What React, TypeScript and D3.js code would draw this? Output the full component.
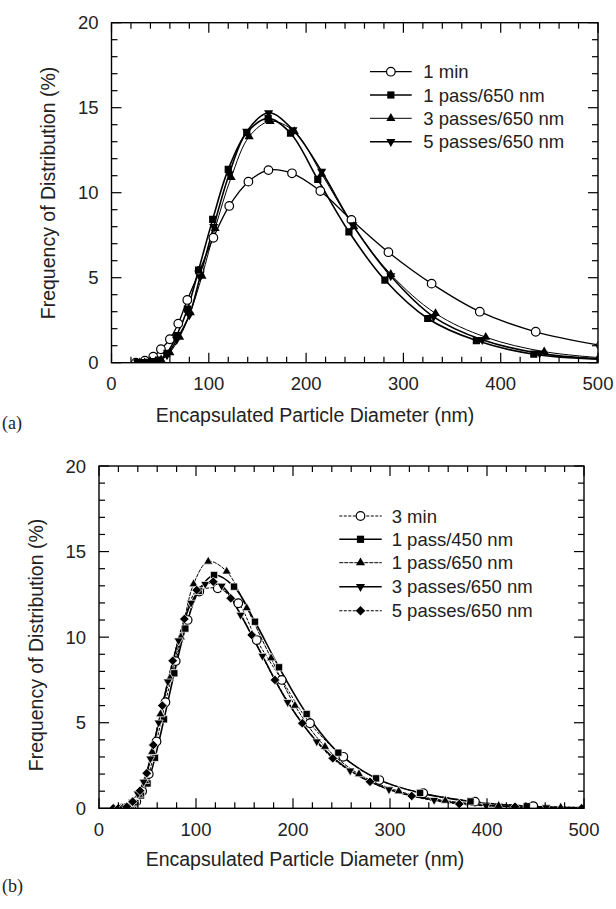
import React from 'react';
import * as d3 from 'd3';

// ---------- Panel (a) data ----------
const aXTicks = [0, 100, 200, 300, 400, 500];
const aYTicks = [0, 5, 10, 15, 20];
const a1minX = [25, 34.3, 42.9, 50.8, 60, 68.6, 77.9, 90.5, 104.7, 121, 140.7, 161.3, 185.5, 214.6, 246.6, 284.6, 329, 378.5, 436, 503];
const a1minY = [0, 0.12, 0.35, 0.79, 1.38, 2.3, 3.69, 5.4, 7.35, 9.22, 10.65, 11.33, 11.14, 10.1, 8.4, 6.5, 4.65, 3.0, 1.82, 1.02];
const a1passX = [27, 32, 37, 42.5, 48.5, 57, 67, 78, 89.5, 104, 120, 139, 161, 184, 212, 244, 281, 325, 375, 434, 502];
const a1passY = [0, 0, 0.02, 0.06, 0.15, 0.55, 1.6, 3.15, 5.45, 8.43, 11.37, 13.53, 14.37, 13.5, 10.78, 7.7, 4.86, 2.6, 1.3, 0.5, 0.2];
const a3passX = [29, 34, 39, 45, 51, 60, 70, 81, 93, 106.5, 123, 141.5, 163, 188, 216, 249, 287, 333, 384.6, 444.7, 512];
const a3passY = [0, 0, 0.02, 0.06, 0.18, 0.6, 1.5, 2.95, 5.1, 7.9, 10.9, 13.3, 14.2, 13.6, 11.1, 8.0, 5.2, 2.9, 1.5, 0.65, 0.25];
const a5passX = [27, 32, 37, 42.5, 48.5, 57, 67, 80, 91, 105, 121, 139, 161.5, 186.5, 216, 248, 287, 331, 381, 440, 510];
const a5passY = [0, 0, 0.01, 0.03, 0.1, 0.45, 1.35, 2.8, 5.05, 8.0, 11.1, 13.6, 14.7, 13.7, 11.25, 8.1, 5.1, 2.7, 1.35, 0.55, 0.2];
const aLabels = ['1 min', '1 pass/650 nm', '3 passes/650 nm', '5 passes/650 nm'];

// ---------- Panel (b) data ----------
const bXTicks = [0, 100, 200, 300, 400, 500];
const bYTicks = [0, 5, 10, 15, 20];
const b3minX = [25, 28.9, 33.3, 38.5, 44.5, 51.3, 59.3, 68.5, 79.1, 91.4, 103.4, 122.4, 143.6, 162.6, 188.4, 217.5, 251.9, 289, 334.3, 387.6, 447.7, 517];
const b3minY = [0, 0.03, 0.12, 0.4, 1.0, 2.0, 3.9, 6.2, 8.6, 11.0, 12.66, 12.85, 11.98, 9.83, 7.5, 4.97, 3.01, 1.65, 0.88, 0.39, 0.13, 0.04];
const b1p450X = [24.3, 28.1, 32.5, 37.5, 43.3, 50, 57.7, 67, 77.6, 89, 102.8, 118.6, 139.2, 160.8, 185.6, 214.1, 246.7, 285.6, 331, 383, 441, 508];
const b1p450Y = [0, 0.02, 0.1, 0.3, 0.75, 1.45, 2.95, 5.2, 7.89, 10.5, 12.7, 13.63, 12.95, 10.9, 8.24, 5.51, 3.25, 1.75, 0.9, 0.4, 0.12, 0.03];
const b1p650X = [22, 26.6, 30.8, 35.6, 41.1, 47.4, 54.8, 63.3, 73.1, 84.4, 97.5, 112.6, 131.6, 152.3, 177.4, 202, 233, 268, 309, 357, 412, 476];
const b1p650Y = [0, 0.02, 0.08, 0.3, 0.8, 1.6, 3.3, 5.5, 7.6, 10.0, 13.1, 14.42, 13.84, 11.7, 8.77, 6.0, 3.6, 2.0, 1.0, 0.45, 0.15, 0.05];
const b3passX = [18, 22, 26, 30, 34.5, 40, 46, 53, 61.5, 71, 82, 95, 109.5, 126.5, 146, 168.5, 194.5, 224.5, 259, 299, 345.5, 399, 461];
const b3passY = [0, 0, 0.04, 0.15, 0.37, 0.85, 1.55, 2.9, 5.0, 7.4, 9.8, 12.0, 13.1, 13.0, 11.3, 8.9, 6.2, 3.9, 2.2, 1.1, 0.48, 0.16, 0.05];
const b5passX = [14.7, 20, 24.5, 28.6, 34.7, 42.3, 49.2, 56, 65.3, 76, 88, 100.7, 117.8, 135.8, 157.4, 181.4, 209.6, 241, 279.4, 322.4, 371.4, 428.9, 497.6];
const b5passY = [0, 0, 0, 0.09, 0.39, 1.03, 2.05, 3.7, 6.0, 8.62, 11.06, 12.75, 13.24, 12.27, 10.13, 7.5, 4.97, 2.92, 1.55, 0.72, 0.25, 0.09, 0];
const bLabels = ['3 min', '1 pass/450 nm', '1 pass/650 nm', '3 passes/650 nm', '5 passes/650 nm'];

const xTitle = 'Encapsulated Particle Diameter (nm)';
const yTitle = 'Frequency of Distribution (%)';

const SANS = '"Liberation Sans", Arial, Helvetica, sans-serif';
const SERIF = '"Liberation Serif", "Times New Roman", serif';

type Shape = 'circle' | 'square' | 'up' | 'down' | 'diamond';
interface Series { xs: number[]; ys: number[]; shape: Shape; label: string; width: number; dash?: string; }

function Marker({ shape, x, y, halo }: { shape: Shape; x: number; y: number; halo?: boolean }) {
  const stroke = halo ? '#fff' : 'none';
  const sw = halo ? 0.7 : 0;
  if (shape === 'circle') {
    return <circle cx={x} cy={y} r={4.3} fill="#fff" stroke="#000" strokeWidth={1.2} />;
  }
  let type: d3.SymbolType = d3.symbolSquare;
  let size = 52;
  let rot = 0;
  if (shape === 'up') { type = d3.symbolTriangle; size = 36; }
  if (shape === 'down') { type = d3.symbolTriangle; size = 36; rot = 180; }
  if (shape === 'diamond') { type = d3.symbolSquare; size = 46; rot = 45; }
  const d = d3.symbol().type(type).size(size)() as string;
  return <path d={d} transform={`translate(${x},${y}) rotate(${rot})`} fill="#000" stroke={stroke} strokeWidth={sw} />;
}

interface PanelProps {
  id: string;
  left: number; right: number; top: number; bottom: number;
  xTicks: number[]; yTicks: number[];
  series: Series[];
  legend: { lineX0: number; lineX1: number; textX: number; rows: number[] };
  tickBase: number; titleBase: number; titleX: number; yTitleX: number; yTitleY: number;
  tag: string; tagX: number; tagBase: number;
  halo: boolean;
}

function Panel(p: PanelProps) {
  const x = d3.scaleLinear().domain([0, 500]).range([p.left, p.right]);
  const y = d3.scaleLinear().domain([0, 20]).range([p.bottom, p.top]);
  const line = d3.line<[number, number]>().x(d => x(d[0])).y(d => y(d[1])).curve(d3.curveCatmullRom.alpha(0.5));
  const minorX = d3.range(0, 501, 20);
  const minorY = d3.range(0, 21, 1);
  const majL = 10, minL = 6;
  return (
    <g>
      <defs>
        <clipPath id={`clip-${p.id}`}>
          <rect x={p.left} y={p.top} width={p.right - p.left} height={p.bottom - p.top} />
        </clipPath>
      </defs>
      <g clipPath={`url(#clip-${p.id})`}>
        {p.series.map((s, i) => (
          <path key={i} d={line(s.xs.map((v, k) => [v, s.ys[k]] as [number, number])) || ''} fill="none" stroke="#000"
            strokeWidth={s.width} strokeDasharray={s.dash} />
        ))}
        {p.series.map((s, i) => (
          <g key={'m' + i}>
            {s.xs.map((v, k) => <Marker key={k} shape={s.shape} x={x(v)} y={y(s.ys[k])} halo={p.halo} />)}
          </g>
        ))}
      </g>
      {/* ticks */}
      {minorX.map(v => {
        const L = aXTicks.includes(v) ? majL : minL;
        return (
          <g key={'tx' + v}>
            <line x1={x(v)} x2={x(v)} y1={p.bottom} y2={p.bottom - L} stroke="#000" strokeWidth={1.2} />
            <line x1={x(v)} x2={x(v)} y1={p.top} y2={p.top + L} stroke="#000" strokeWidth={1.2} />
          </g>
        );
      })}
      {minorY.map(v => {
        const L = v % 5 === 0 ? majL : minL;
        return (
          <g key={'ty' + v}>
            <line x1={p.left} x2={p.left + L} y1={y(v)} y2={y(v)} stroke="#000" strokeWidth={1.2} />
            <line x1={p.right} x2={p.right - L} y1={y(v)} y2={y(v)} stroke="#000" strokeWidth={1.2} />
          </g>
        );
      })}
      <rect x={p.left} y={p.top} width={p.right - p.left} height={p.bottom - p.top} fill="none" stroke="#000" strokeWidth={1.4} />
      {p.xTicks.map(v => (
        <text key={'xl' + v} x={x(v)} y={p.tickBase} textAnchor="middle" fontFamily={SANS} fontSize={18.5} fill="#222">{v}</text>
      ))}
      {p.yTicks.map(v => (
        <text key={'yl' + v} x={p.left - 13} y={y(v)} dy="0.36em" textAnchor="end" fontFamily={SANS} fontSize={18.5} fill="#222">{v}</text>
      ))}
      <text x={p.titleX} y={p.titleBase} textAnchor="middle" fontFamily={SANS} fontSize={19.5} fill="#222">{xTitle}</text>
      <text transform={`translate(${p.yTitleX},${p.yTitleY}) rotate(-90)`} textAnchor="middle" dy="0.36em" fontFamily={SANS} fontSize={19.5} fill="#222">{yTitle}</text>
      <text x={p.tagX} y={p.tagBase} fontFamily={SERIF} fontSize={18} fill="#222">{p.tag}</text>
      {/* legend */}
      {p.series.map((s, i) => {
        const ry = p.legend.rows[i];
        const mx = (p.legend.lineX0 + p.legend.lineX1) / 2;
        return (
          <g key={'lg' + i}>
            <line x1={p.legend.lineX0} x2={p.legend.lineX1} y1={ry} y2={ry} stroke="#000" strokeWidth={s.width} strokeDasharray={s.dash} />
            <Marker shape={s.shape} x={mx} y={ry} />
            <text x={p.legend.textX} y={ry} dy="0.36em" fontFamily={SANS} fontSize={18.5} fill="#222">{s.label}</text>
          </g>
        );
      })}
    </g>
  );
}

export default function App() {
  const aSeries: Series[] = [
    { xs: a1minX, ys: a1minY, shape: 'circle', label: aLabels[0], width: 1.3 },
    { xs: a1passX, ys: a1passY, shape: 'square', label: aLabels[1], width: 1.6 },
    { xs: a3passX, ys: a3passY, shape: 'up', label: aLabels[2], width: 1.0 },
    { xs: a5passX, ys: a5passY, shape: 'down', label: aLabels[3], width: 1.6 },
  ];
  const bSeries: Series[] = [
    { xs: b3minX, ys: b3minY, shape: 'circle', label: bLabels[0], width: 1.0, dash: '3,1.5' },
    { xs: b1p450X, ys: b1p450Y, shape: 'square', label: bLabels[1], width: 1.6 },
    { xs: b1p650X, ys: b1p650Y, shape: 'up', label: bLabels[2], width: 1.0, dash: '4,1' },
    { xs: b3passX, ys: b3passY, shape: 'down', label: bLabels[3], width: 1.6 },
    { xs: b5passX, ys: b5passY, shape: 'diamond', label: bLabels[4], width: 1.1, dash: '3,1.5' },
  ];
  return (
    <svg width={616} height={909} style={{ position: 'absolute', left: 0, top: 0, background: '#fff' }}>
      <rect width={616} height={909} fill="#fff" />
      <Panel id="a" left={111.5} right={598} top={22.7} bottom={362.7}
        xTicks={aXTicks} yTicks={aYTicks} series={aSeries}
        legend={{ lineX0: 370, lineX1: 411.7, textX: 423.3, rows: [71.7, 95, 118.3, 141.7] }}
        tickBase={390} titleBase={422} titleX={315} yTitleX={48} yTitleY={193}
        tag="(a)" tagX={2} tagBase={429} halo={false} />
      <Panel id="b" left={99} right={584} top={466} bottom={808.3}
        xTicks={bXTicks} yTicks={bYTicks} series={bSeries}
        legend={{ lineX0: 339.3, lineX1: 381.7, textX: 391.7, rows: [516, 539.3, 562.7, 586.7, 610.7] }}
        tickBase={836} titleBase={866} titleX={305} yTitleX={36} yTitleY={645}
        tag="(b)" tagX={2} tagBase={892} halo={true} />
    </svg>
  );
}
